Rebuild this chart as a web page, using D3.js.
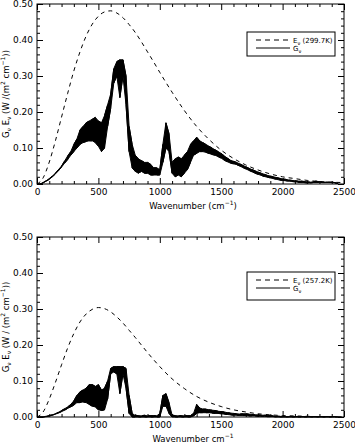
<!DOCTYPE html>
<html><head><meta charset="utf-8">
<script src="https://cdn.jsdelivr.net/npm/d3@7/dist/d3.min.js"></script>
<style>
html,body{margin:0;padding:0;background:#fff;}
svg{display:block;}
text{font-family:"DejaVu Sans",sans-serif;fill:#000;}
</style></head>
<body>
<svg id="chart" width="355" height="444"></svg>
<script>
// ---- data ----
const yTicks = [0, 0.1, 0.2, 0.3, 0.4, 0.5];
const xTicks = [0, 500, 1000, 1500, 2000, 2500];

// Planck-like dashed curves, E_nu
const eWn = [0,50,100,150,200,250,300,350,400,450,500,550,600,650,700,750,800,850,900,950,1000,1100,1200,1300,1400,1500,1600,1700,1800,1900,2000,2100,2200,2300,2400,2500];
const eTop = [0,0.017,0.061,0.120,0.186,0.252,0.314,0.367,0.411,0.444,0.466,0.478,0.481,0.475,0.462,0.443,0.421,0.395,0.367,0.339,0.310,0.255,0.204,0.160,0.124,0.094,0.071,0.053,0.039,0.028,0.020,0.015,0.010,0.007,0.005,0.004];
const eBot = [0,0.014,0.050,0.096,0.145,0.192,0.232,0.264,0.286,0.299,0.304,0.301,0.292,0.278,0.261,0.241,0.221,0.200,0.179,0.159,0.140,0.106,0.079,0.057,0.041,0.029,0.020,0.014,0.009,0.006,0.004,0.003,0.002,0.001,0.001,0.0005];

// G_nu spectra: wavenumber grid with lower / upper envelope of the noisy trace
const gWn = [0,25,50,75,100,125,150,175,200,225,250,275,300,325,350,375,400,425,450,475,500,525,550,575,600,625,650,675,700,725,750,775,800,825,850,875,900,925,950,975,1000,1025,1050,1075,1100,1125,1150,1175,1200,1225,1250,1275,1300,1325,1350,1375,1400,1425,1450,1475,1500,1525,1550,1575,1600,1625,1650,1675,1700,1725,1750,1775,1800,1825,1850,1875,1900,1925,1950,1975,2000,2025,2050,2075,2100,2125,2150,2175,2200,2225,2250,2275,2300,2325,2350,2375,2400,2425,2450];
const gTopLo = [0,0,0.003,0.008,0.013,0.020,0.028,0.037,0.047,0.058,0.068,0.080,0.090,0.100,0.110,0.115,0.118,0.120,0.120,0.115,0.105,0.090,0.100,0.160,0.210,0.280,0.300,0.240,0.300,0.220,0.090,0.045,0.035,0.030,0.035,0.030,0.030,0.025,0.025,0.025,0.025,0.060,0.100,0.090,0.030,0.020,0.025,0.020,0.030,0.040,0.060,0.080,0.085,0.090,0.090,0.088,0.085,0.082,0.080,0.076,0.072,0.066,0.062,0.058,0.056,0.054,0.050,0.046,0.042,0.038,0.034,0.030,0.027,0.024,0.021,0.019,0.017,0.015,0.013,0.011,0.010,0.009,0.008,0.007,0.006,0.005,0.004,0.004,0.003,0.003,0.004,0.004,0.005,0.004,0.004,0.004,0.004,0.003,0.001];
const gTopHi = [0,0,0.004,0.009,0.015,0.022,0.030,0.040,0.050,0.064,0.078,0.090,0.110,0.125,0.150,0.160,0.170,0.175,0.180,0.185,0.175,0.170,0.190,0.220,0.250,0.320,0.340,0.345,0.345,0.300,0.160,0.110,0.080,0.070,0.065,0.060,0.060,0.055,0.045,0.045,0.040,0.110,0.170,0.140,0.060,0.070,0.075,0.070,0.080,0.090,0.110,0.120,0.130,0.120,0.115,0.110,0.105,0.100,0.095,0.090,0.085,0.078,0.072,0.066,0.063,0.060,0.056,0.052,0.048,0.044,0.040,0.037,0.033,0.030,0.027,0.024,0.022,0.020,0.018,0.016,0.014,0.013,0.011,0.010,0.009,0.008,0.008,0.007,0.006,0.005,0.006,0.008,0.006,0.005,0.005,0.005,0.005,0.004,0.002];
const gBotLo = [0,0,0,0.001,0.003,0.005,0.008,0.011,0.015,0.019,0.024,0.028,0.033,0.040,0.040,0.042,0.040,0.035,0.030,0.028,0.020,0.018,0.020,0.050,0.120,0.125,0.120,0.065,0.120,0.080,0.010,0,0,0,0,0,0,0,0,0,0,0.030,0.030,0.010,0,0,0,0,0,0,0,0.003,0.010,0.012,0.012,0.012,0.012,0.011,0.010,0.010,0.009,0.008,0.007,0.006,0.005,0.005,0.004,0.004,0.004,0.003,0.003,0.003,0.002,0.002,0.002,0.001,0.001,0.001,0,0,0,0,0,0,0,0,0,0,0,0,0,0,0,0,0,0,0,0,0];
const gBotHi = [0,0,0,0.002,0.004,0.006,0.009,0.013,0.018,0.023,0.028,0.035,0.045,0.060,0.070,0.075,0.080,0.090,0.090,0.085,0.090,0.075,0.080,0.100,0.135,0.140,0.140,0.140,0.140,0.135,0.060,0.010,0.004,0.004,0.003,0.005,0.003,0.004,0.004,0.003,0.010,0.060,0.065,0.040,0.005,0.004,0.003,0.004,0.003,0.004,0.004,0.010,0.035,0.025,0.022,0.022,0.020,0.019,0.018,0.016,0.015,0.014,0.012,0.011,0.010,0.009,0.008,0.009,0.009,0.008,0.007,0.006,0.006,0.005,0.005,0.004,0.004,0.003,0.002,0.002,0.001,0.001,0.001,0.001,0.001,0.001,0.001,0.001,0.001,0.001,0.001,0.001,0.001,0.001,0.001,0.001,0.001,0.001,0];

const panels = [
  {top:4, bottom:184, e:eTop, gLo:gTopLo, gHi:gTopHi,
   ytitle:["G","ν"," E","ν","  (W /(m","2"," cm","−1","))"],
   xtitle:["Wavenumber (cm","−1",")"],
   legend:["E","ν"," (299.7K)"], lx:247, ly:32, lw:88, lh:24},
  {top:237, bottom:417, e:eBot, gLo:gBotLo, gHi:gBotHi,
   ytitle:["G","ν"," E","ν"," (W / (m","2"," cm","−1","))"],
   xtitle:["Wavenumber cm","−1",""],
   legend:["E","ν"," (257.2K)"], lx:247, ly:272, lw:88, lh:28}
];

const svg = d3.select("#chart");
svg.append("rect").attr("width",355).attr("height",444).attr("fill","#fff");

const x = d3.scaleLinear().domain([0,2500]).range([37,344]);
const xMinor = d3.range(0,2501,100).filter(v=>v%500!==0);
const yMinor = d3.range(0,0.5001,0.02).filter((v,i)=>i%5!==0);

panels.forEach(p=>{
  const y = d3.scaleLinear().domain([0,0.5]).range([p.bottom,p.top]);
  const g = svg.append("g");
  const clean = sel=>sel.select(".domain").remove();
  const styleText = sel=>sel.selectAll("text").attr("font-size","9px").attr("font-family","DejaVu Sans");

  // major ticks with labels
  g.append("g").attr("transform",`translate(37,0)`)
    .call(d3.axisLeft(y).tickValues(yTicks).tickSize(-6).tickPadding(4).tickFormat(d3.format(".2f")))
    .call(clean).call(styleText);
  g.append("g").attr("transform",`translate(0,${p.bottom})`)
    .call(d3.axisBottom(x).tickValues(xTicks).tickSize(-6).tickPadding(5).tickFormat(d3.format("d")))
    .call(clean).call(styleText);
  g.append("g").attr("transform",`translate(344,0)`)
    .call(d3.axisRight(y).tickValues(yTicks).tickSize(-6).tickFormat(""))
    .call(clean);
  g.append("g").attr("transform",`translate(0,${p.top})`)
    .call(d3.axisTop(x).tickValues(xTicks).tickSize(-6).tickFormat(""))
    .call(clean);
  // minor ticks
  g.append("g").attr("transform",`translate(37,0)`)
    .call(d3.axisLeft(y).tickValues(yMinor).tickSize(-3).tickFormat("")).call(clean);
  g.append("g").attr("transform",`translate(344,0)`)
    .call(d3.axisRight(y).tickValues(yMinor).tickSize(-3).tickFormat("")).call(clean);
  g.append("g").attr("transform",`translate(0,${p.bottom})`)
    .call(d3.axisBottom(x).tickValues(xMinor).tickSize(-3).tickFormat("")).call(clean);
  g.append("g").attr("transform",`translate(0,${p.top})`)
    .call(d3.axisTop(x).tickValues(xMinor).tickSize(-3).tickFormat("")).call(clean);

  // frame
  g.append("rect").attr("x",37).attr("y",p.top).attr("width",307).attr("height",p.bottom-p.top)
    .attr("fill","none").attr("stroke","#000").attr("stroke-width",1);

  // dashed E curve
  const eLine = d3.line().x((d,i)=>x(eWn[i])).y(d=>y(d)).curve(d3.curveMonotoneX);
  g.append("path").datum(p.e).attr("d",eLine).attr("fill","none")
    .attr("stroke","#000").attr("stroke-width",1).attr("stroke-dasharray","4,4");

  // G trace: filled band between the envelopes plus zigzag strokes
  const band = d3.area().x((d,i)=>x(gWn[i])).y0((d,i)=>y(p.gLo[i])).y1((d,i)=>y(p.gHi[i]));
  g.append("path").datum(gWn).attr("d",band).attr("fill","#000").attr("stroke","#000").attr("stroke-width",1).attr("stroke-linejoin","round");
  const pts = [];
  gWn.forEach((w,i)=>{
    if(i%2===0){pts.push([w,p.gLo[i]]);pts.push([w,p.gHi[i]]);}
    else {pts.push([w,p.gHi[i]]);pts.push([w,p.gLo[i]]);}
  });
  const gLine = d3.line().x(d=>x(d[0])).y(d=>y(d[1]));
  g.append("path").datum(pts).attr("d",gLine).attr("fill","none")
    .attr("stroke","#000").attr("stroke-width",1);

  // y title
  const cy = (p.top+p.bottom)/2;
  const yt = g.append("text").attr("transform",`translate(9,${cy}) rotate(-90)`)
    .attr("text-anchor","middle").attr("font-size","8.5px");
  const subsup = (t, parts, small)=>{
    parts.forEach((s,i)=>{
      const ts = t.append("tspan").text(s);
      if(s==="ν"){ts.attr("font-size",small||"6px").attr("baseline-shift","-2");}
      else if(s==="2"||s==="−1"){ts.attr("font-size",small||"6px").attr("baseline-shift","4");}
    });
  };
  subsup(yt, p.ytitle);

  // x title
  const xt = g.append("text").attr("x",193).attr("y",p.bottom+25)
    .attr("text-anchor","middle").attr("font-size","8.5px");
  subsup(xt, p.xtitle);

  // legend
  const lg = g.append("g");
  lg.append("rect").attr("x",p.lx).attr("y",p.ly).attr("width",p.lw).attr("height",p.lh)
    .attr("fill","#fff").attr("stroke","#000").attr("stroke-width",1);
  const l1 = p.ly+8, l2 = p.ly+16;
  lg.append("line").attr("x1",p.lx+9).attr("x2",p.lx+43).attr("y1",l1).attr("y2",l1)
    .attr("stroke","#000").attr("stroke-dasharray","5,4");
  lg.append("line").attr("x1",p.lx+9).attr("x2",p.lx+43).attr("y1",l2).attr("y2",l2)
    .attr("stroke","#000");
  const t1 = lg.append("text").attr("x",p.lx+46).attr("y",l1+2.5).attr("font-size","7px");
  subsup(t1, p.legend, "5px");
  const t2 = lg.append("text").attr("x",p.lx+46).attr("y",l2+2.5).attr("font-size","7px");
  subsup(t2, ["G","ν"], "5px");
});
</script>
</body></html>
